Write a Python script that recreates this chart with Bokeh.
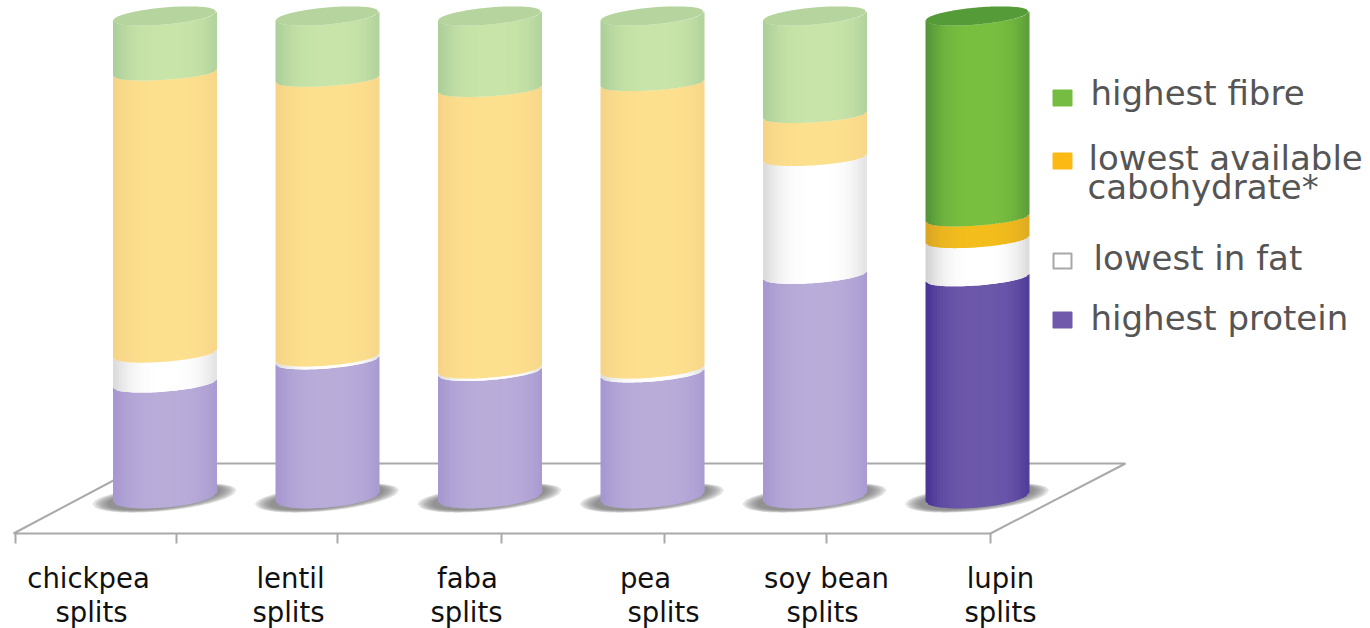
import numpy as np
from bokeh.plotting import figure
from bokeh.models import Range1d
from bokeh.core.properties import value
from bokeh.embed import file_html
from bokeh.resources import INLINE

# ---- data (share of the column) ----
categories = ["chickpea\nsplits", "lentil\nsplits", "faba\nsplits", "pea\nsplits", "soy bean\nsplits", "lupin\nsplits"]
protein = [23.6, 28.4, 26.0, 25.7, 46.1, 45.6]
fat = [6.2, 0.6, 0.5, 0.8, 24.4, 7.9]
carbohydrate = [58.4, 57.9, 58.3, 59.5, 8.9, 4.5]
fibre = [11.8, 13.1, 15.2, 14.0, 20.6, 42.0]
legend_labels = ["highest fibre", "lowest available\ncabohydrate*", "lowest in fat", "highest protein"]

# ---- styles ----
PALE = {"protein": ("#b9acd9", "#a698d0"), "fat": ("#ffffff", "#dcdcdc"),
        "carb": ("#fde08e", "#f5d488"), "fibre": ("#c8e4a8", "#adcf9b")}
STRONG = {"protein": ("#6c58aa", "#4a3596"), "fat": ("#ffffff", "#d4d4d4"),
          "carb": ("#f3bd1c", "#d9a625"), "fibre": ("#79bf3f", "#55963a")}
CAP = {False: "#b5d49e", True: "#559b38"}
LEGEND_COLORS = ["#76bc43", "#fdb913", "#ffffff", "#7059ab"]

W, H = 1370, 628
PX_PER_PCT = 4.81
BASE_PY = 496.5
STEP = 162.5
CX0 = 164.0
HALF = 51.5
TILT = 4.5
BULGE = 8.5
TEXT_SHIFT = 11


def X(px):
    return (np.asarray(px, dtype=float) - CX0) / STEP


def Y(py):
    return (BASE_PY - np.asarray(py, dtype=float)) / PX_PER_PCT


def mix(a, b, t):
    ca = [int(a[i:i + 2], 16) for i in (1, 3, 5)]
    cb = [int(b[i:i + 2], 16) for i in (1, 3, 5)]
    return "#%02x%02x%02x" % tuple(int(round(p + (q - p) * t)) for p, q in zip(ca, cb))


def arc(u, v, sign=1.0, bulge=BULGE, tilt=TILT):
    """Height in data units of an ellipse edge at level v, for u in [-1, 1]."""
    return v + (tilt * u - sign * bulge * np.sqrt(np.clip(1 - u * u, 0, 1))) / PX_PER_PCT


def boundary(u, v):
    # the rings flatten a little towards the top of the column
    return arc(u, v, 1, BULGE - 1.5 * min(v, 88) / 88, TILT - 1.2 * min(v, 88) / 88)


p = figure(width=W, height=H, output_backend="svg", toolbar_location=None,
           x_axis_type=None, y_axis_type=None, min_border=0,
           x_range=Range1d(float(X(0)), float(X(W))),
           y_range=Range1d(float(Y(H)), float(Y(0))))
p.outline_line_color = None
p.grid.visible = False
p.background_fill_color = "#ffffff"
p.border_fill_color = "#ffffff"

# floor
FLOOR = "#a9a9a9"
p.line(X([13, 990, 1125, 145, 13]), Y([533, 533, 463, 463, 533]), line_color=FLOOR, line_width=2)
tick_px = [15, 176, 337, 501, 664, 826, 990]
p.segment(X(tick_px), Y([533] * 7), X(tick_px), Y([543] * 7), line_color=FLOOR, line_width=2)

# shadows
U = np.linspace(-1, 1, 61)
sx, sy = [], []
for i in range(len(categories)):
    for scale in (1.0, 0.96, 0.92, 0.88, 0.84, 0.8):
        half = 72 * scale
        top = arc(U, 0, -1, 12 * scale, 7)
        bot = arc(U, 0, 1, 14 * scale, 7)
        sx.append(np.concatenate([i + U * half / STEP, i + U[::-1] * half / STEP]))
        sy.append(np.concatenate([top, bot[::-1]]))
p.patches(sx, sy, fill_color="#707070", fill_alpha=0.2, line_color=None)

# cylinders made of thin shaded strips
edges = np.linspace(-1, 1, 37)
xs, ys, cols = [], [], []
for i in range(len(categories)):
    pal = STRONG if i == 5 else PALE
    level = 0.0
    for key, vals in (("protein", protein), ("fat", fat), ("carb", carbohydrate), ("fibre", fibre)):
        nxt = level + vals[i]
        c, e = pal[key]
        for a, b in zip(edges[:-1], edges[1:]):
            m = (a + b) / 2
            t = np.clip(1 - abs(m - 0.05) ** 3, 0, 1)
            u = np.array([a, b])
            lo = boundary(u, level)
            hi = boundary(u, nxt) if key != "fibre" else arc(u, nxt)
            if key == "protein":
                lo = arc(u, level, 1, 10.5)
            xs.append(i + np.array([a, b + 0.02, b + 0.02, a]) * HALF / STEP)
            ys.append([lo[0], lo[1], hi[1], hi[0]])
            cols.append(mix(e, c, t))
        level = nxt
    # top surface
    top_u = np.linspace(-1, 1, 61)
    xc = i + np.concatenate([top_u, top_u[::-1]]) * HALF / STEP
    yc = np.concatenate([arc(top_u, level, 1), arc(top_u[::-1], level, -1)])
    p.patch(xc, yc, fill_color=CAP[i == 5], line_color=None, level="overlay")
p.patches(xs, ys, fill_color=cols, line_color=None)

# category labels
label_line1_px = [88, 290, 467, 645, 826, 1000]
label_line2_px = [91, 288, 466, 663, 822, 1000]
l1 = [c.split("\n")[0] for c in categories]
l2 = [c.split("\n")[1] for c in categories]
label_font = value("DejaVu Sans")
p.text(X(label_line1_px), Y([588 - TEXT_SHIFT] * 6), text=l1, text_font=label_font, text_font_size="27.5px",
       text_align="center", text_baseline="alphabetic", text_color="#111111")
p.text(X(label_line2_px), Y([622 - TEXT_SHIFT] * 6), text=l2, text_font=label_font, text_font_size="27.5px",
       text_align="center", text_baseline="alphabetic", text_color="#111111")

# legend
marker_top = [90, 153, 253, 312]
marker_bottom = [105, 168, 268, 327]
p.quad(left=X([1053] * 4), right=X([1071] * 4), top=Y(marker_top), bottom=Y(marker_bottom),
       fill_color=LEGEND_COLORS, line_color=[c if c != "#ffffff" else "#a8a8a8" for c in LEGEND_COLORS],
       line_width=2, line_join="round")
rows = [legend_labels[0], *legend_labels[1].split("\n"), legend_labels[2], legend_labels[3]]
row_py = np.array([103, 168, 197, 268, 328]) - TEXT_SHIFT
p.text(X([1090, 1088, 1087, 1093, 1090]), Y(row_py), text=rows,
       text_font=value("DejaVu Sans"), text_font_size="34px", text_align="left",
       text_baseline="alphabetic", text_color="#555555")

open("out.html", "w").write(file_html(p, INLINE))
